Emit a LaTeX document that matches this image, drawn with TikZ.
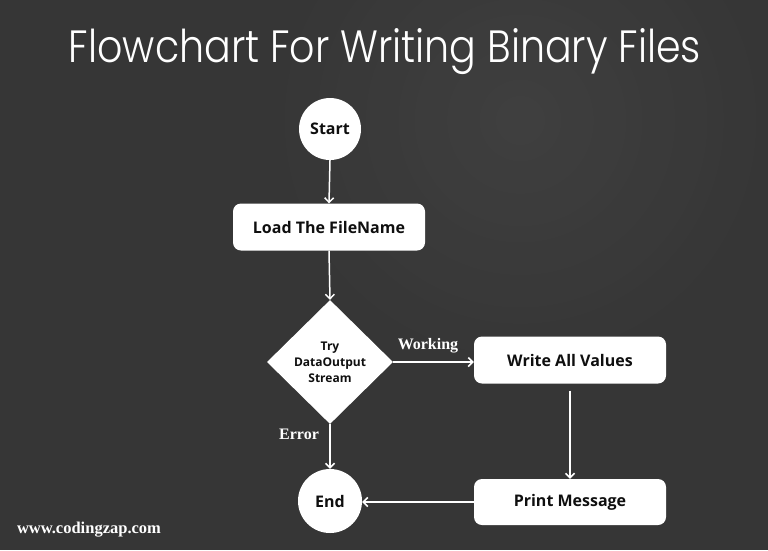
\documentclass[tikz,border=0pt]{standalone}
\usepackage{fontspec}
\usetikzlibrary{shapes.geometric,arrows.meta}
\newfontfamily\nodefont{Open Sans}
\newfontfamily\titlefont{Poppins Light}
\newfontfamily\labelfont{Liberation Serif}
\definecolor{board}{RGB}{54,54,54}
\definecolor{boardlight}{RGB}{70,70,70}
\definecolor{ink}{RGB}{15,15,15}
\tikzset{
  box/.style={draw=none, fill=white, rounded corners=8pt, minimum width=192pt, minimum height=47pt, inner sep=0pt,
    font=\nodefont\bfseries\fontsize{16}{19}\selectfont, text=ink},
  term/.style={circle, fill=white, inner sep=0pt, font=\nodefont\bfseries\fontsize{16}{19}\selectfont, text=ink},
  decision/.style={diamond, fill=white, inner sep=0pt, minimum width=126pt, minimum height=124pt,
    align=center, font=\nodefont\bfseries\fontsize{12}{16}\selectfont, text=ink},
  flow/.style={draw=white, line width=1.5pt, -{Straight Barb[length=4.5pt,width=9pt]}},
  lbl/.style={font=\labelfont\bfseries\fontsize{16}{19}\selectfont, text=white, inner sep=0pt},
}
\begin{document}
\begin{tikzpicture}[x=1pt,y=-1pt]
\useasboundingbox (0,0) rectangle (768,550);
\fill[board] (0,0) rectangle (768,550);
\shade[inner color=boardlight, outer color=board, opacity=0.6] (520,120) circle (260);

\node[anchor=base, text=white, inner sep=0pt] (title) at (385,62)
  {\resizebox{632pt}{34pt}{\titlefont Flowchart For Writing Binary Files}};

\node[term, minimum size=62pt] (start) at (330,129) {Start};
\node[box] (load) at (329,227) {Load The FileName};
\node[decision] (try) at (330,362) {Try\\DataOutput\\Stream};
\node[box] (write) at (570,360) {Write All Values};
\node[box, minimum height=46pt] (print) at (570,502) {Print Message};
\node[term, minimum size=64pt] (end) at (330,501) {End};

\draw[flow] (start.south) -- (load.north);
\draw[flow] (load.south) -- (try.north);
\draw[flow] (try.east) -- (try.east -| write.west);
\draw[flow, shorten <=7pt] (write.south) -- (print.north);
\draw[flow] (print.west) -- (print.west -| end.east);
\draw[flow] (try.south) -- (end.north);

\node[lbl] (working) at (428,346) {Working};
\node[lbl] (error) at (299,434) {Error};
\node[lbl, font=\labelfont\bfseries\fontsize{16.5}{19}\selectfont] (site) at (89,530) {www.codingzap.com};
\end{tikzpicture}
\end{document}
